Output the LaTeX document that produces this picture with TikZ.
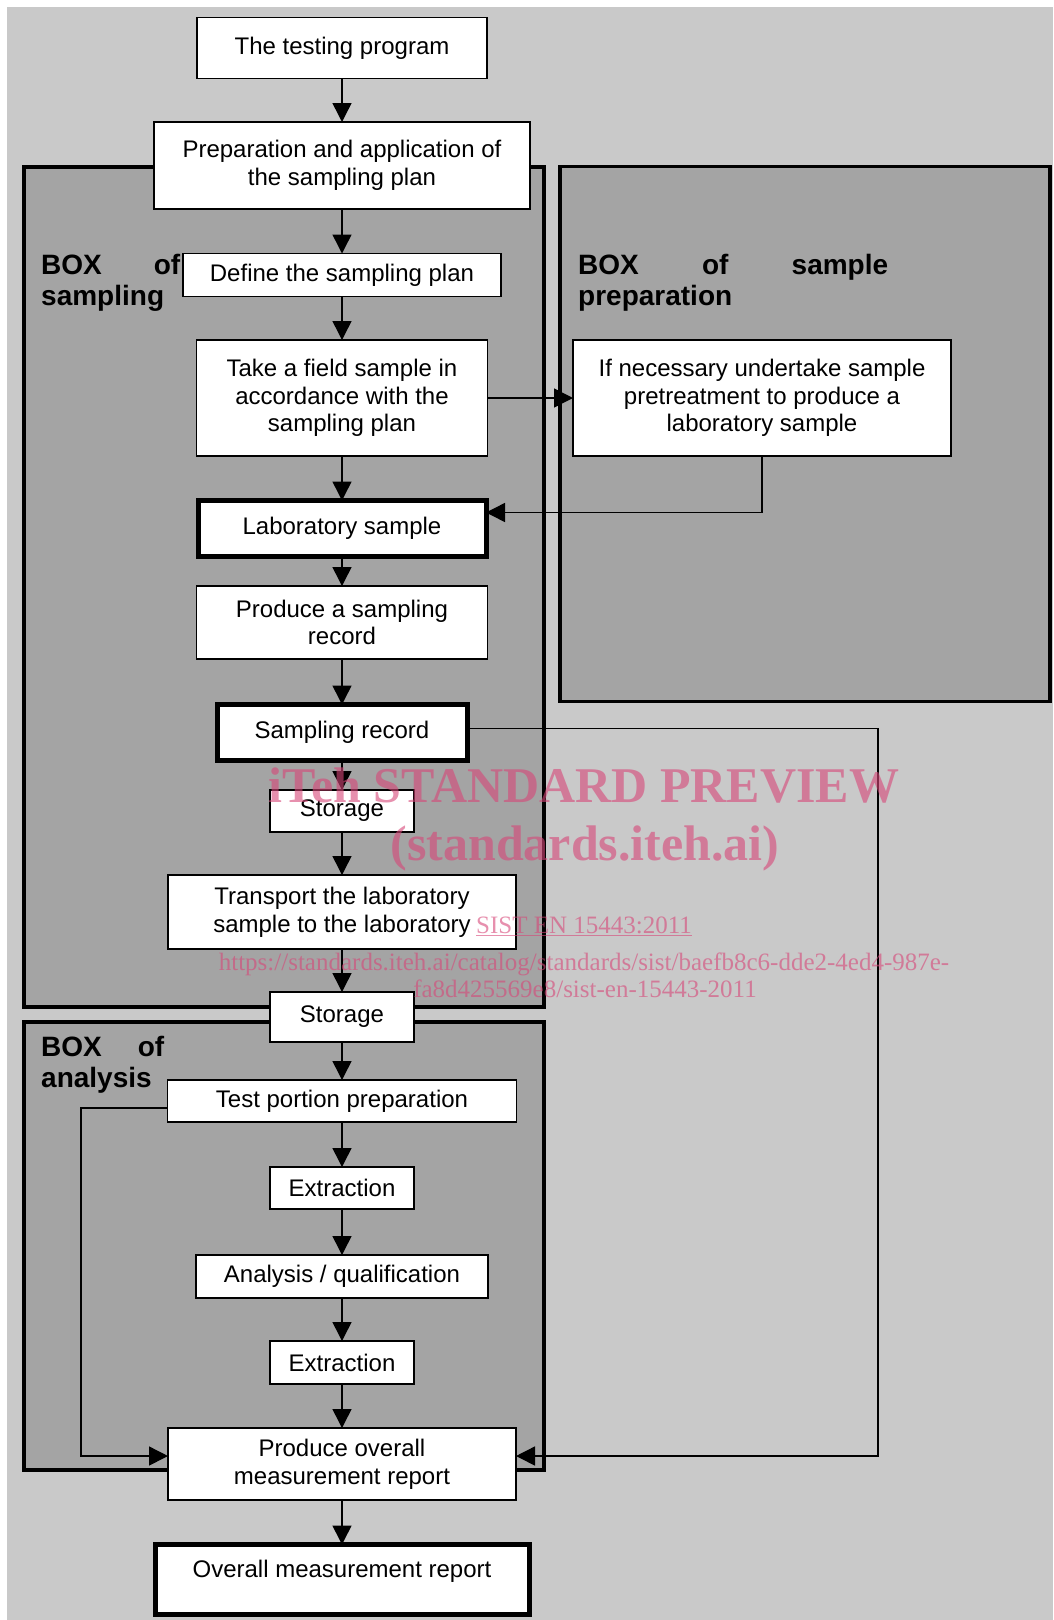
\documentclass[tikz,border=0pt]{standalone}
\usepackage{fontspec}
\setmainfont{Liberation Sans}
\newfontfamily\wmfont{Liberation Serif}
\usetikzlibrary{arrows.meta}
\definecolor{bgout}{HTML}{C9C9C9}
\definecolor{bgin}{HTML}{A4A4A4}
\definecolor{wmpink}{RGB}{215,70,120}
\begin{document}
\begin{tikzpicture}[x=1pt,y=-1pt,
  stepbox/.style={draw=black,line width=1.8pt,fill=white,inner sep=0pt,outer sep=0pt,
    align=center,font=\fontsize{24}{27.6}\selectfont},
  keybox/.style={stepbox,line width=5pt},
  group/.style={draw=black,line width=3.5pt,fill=bgin,inner sep=0pt,outer sep=0pt},
  grouplabel/.style={anchor=base west,inner sep=0pt,align=left,
    font=\bfseries\fontsize{28}{31.5}\selectfont},
  arr/.style={line width=1.5pt,-{Triangle[length=19pt,width=19pt]}},
  wm/.style={text=wmpink,text opacity=0.6,inner sep=0pt,anchor=base},
  wmbig/.style={wm,font=\wmfont\bfseries\fontsize{50}{55}\selectfont},
  wmsmall/.style={wm,font=\wmfont\fontsize{25}{28}\selectfont},
]
\useasboundingbox (0,0) rectangle (1053,1620);
\fill[white] (0,0) rectangle (1053,1620);
\fill[bgout] (7,7) rectangle (1053,1620);

% group boxes
\node[group,minimum width=520pt,minimum height=840pt] (grpS) at (284,587) {};
\node[group,minimum width=490pt,minimum height=535pt] (grpP) at (805,434) {};
\node[group,minimum width=520pt,minimum height=448pt] (grpA) at (284,1246) {};

% group labels
\node[grouplabel,text width=139pt] (labS) at (41,274) {BOX\hfill of\\sampling};
\node[grouplabel,text width=310pt] (labP) at (578,274) {BOX\hfill of\hfill sample\\preparation};
\node[grouplabel,text width=123pt] (labA) at (41,1056) {BOX\hfill of\\analysis};

% steps
\node[stepbox,minimum width=290pt,minimum height=61pt] (test) at (342,48) {The testing program};
\node[stepbox,minimum width=376pt,minimum height=87pt] (prep) at (342,165.5) {Preparation and application of\\the sampling plan};
\node[stepbox,minimum width=318pt,minimum height=43pt] (define) at (342,275) {Define the sampling plan};
\node[stepbox,minimum width=291pt,minimum height=116pt] (tfs) at (342,398) {Take a field sample in\\accordance with the\\sampling plan};
\node[stepbox,minimum width=378pt,minimum height=116pt] (ifn) at (762,398) {If necessary undertake sample\\pretreatment to produce a\\laboratory sample};
\node[keybox,minimum width=288pt,minimum height=56pt] (lab) at (342,528.5) {Laboratory sample};
\node[stepbox,minimum width=291pt,minimum height=73pt] (psr) at (342,622.5) {Produce a sampling\\record};
\node[keybox,minimum width=250pt,minimum height=56pt] (srec) at (342,732.5) {Sampling record};
\node[stepbox,minimum width=144pt,minimum height=42pt] (stor1) at (342,811) {Storage};
\node[stepbox,minimum width=348pt,minimum height=74pt] (trans) at (342,912) {Transport the laboratory\\sample to the laboratory};
\node[stepbox,minimum width=144pt,minimum height=50pt] (stor2) at (342,1017) {Storage};
\node[stepbox,minimum width=349pt,minimum height=42pt] (tpp) at (342,1101) {Test portion preparation};
\node[stepbox,minimum width=144pt,minimum height=42pt] (ext1) at (342,1188) {Extraction};
\node[stepbox,minimum width=292pt,minimum height=43pt] (aq) at (342,1276.5) {Analysis / qualification};
\node[stepbox,minimum width=144pt,minimum height=43pt] (ext2) at (342,1362.5) {Extraction};
\node[stepbox,minimum width=348pt,minimum height=72pt] (pover) at (342,1464) {Produce overall\\measurement report};
\node[keybox,minimum width=374pt,minimum height=70pt,text depth=22pt] (omr) at (342,1579.5) {Overall measurement report};

% main chain
\foreach \a/\b in {test/prep,prep/define,define/tfs,tfs/lab,lab/psr,psr/srec,srec/stor1,
  stor1/trans,trans/stor2,stor2/tpp,tpp/ext1,ext1/aq,aq/ext2,ext2/pover,pover/omr}
  \draw[arr] (\a.south) -- (\b.north);

% side connectors
\draw[arr] (tfs.east) -- (ifn.west);
\draw[arr] (ifn.south) |- ([yshift=16pt]lab.east);
\coordinate (fbR) at (878,1456);
\coordinate (fbL) at (81,1456);
\draw[arr] ([yshift=4pt]srec.east) -| (fbR) -- ([yshift=8pt]pover.east);
\draw[arr] ([yshift=-7pt]tpp.west) -| (fbL) -- ([yshift=8pt]pover.west);

% watermark
\node[wmbig] (wm1) at (584,802) {iTeh STANDARD PREVIEW};
\node[wmbig] (wm2) at (585,860) {(standards.iteh.ai)};
\node[wmsmall] (wm3) at (584,933) {\underline{SIST EN 15443:2011}};
\node[wmsmall] (wm4) at (584,970) {https://standards.iteh.ai/catalog/standards/sist/baefb8c6-dde2-4ed4-987e-};
\node[wmsmall] (wm5) at (585,997) {fa8d425569e8/sist-en-15443-2011};
\end{tikzpicture}
\end{document}
